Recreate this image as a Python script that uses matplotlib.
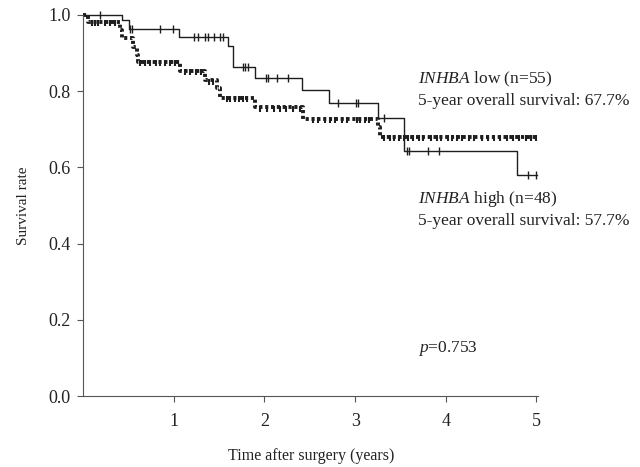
import matplotlib
matplotlib.use("Agg")
import matplotlib.pyplot as plt

plt.rcParams["font.family"] = ["Liberation Serif", "DejaVu Serif"]
plt.rcParams["mathtext.fontset"] = "custom"
plt.rcParams["mathtext.rm"] = "Liberation Serif"
plt.rcParams["mathtext.it"] = "Liberation Serif:italic"

# solid curve (step times in years, survival after each step)
solid_t = [0.0, 0.43, 0.50, 1.06, 1.60, 1.65, 1.89, 2.41, 2.71, 3.25, 3.54, 4.79, 5.01]
solid_s = [1.0, 0.987, 0.963, 0.942, 0.919, 0.863, 0.835, 0.802, 0.770, 0.730, 0.643, 0.580, 0.580]
solid_cens_t = [0.18, 0.52, 0.54, 0.85, 0.99, 1.22, 1.27, 1.34, 1.38, 1.44, 1.51, 1.54,
                1.76, 1.79, 1.82, 2.02, 2.04, 2.14, 2.26, 2.81, 3.01, 3.03, 3.32,
                3.57, 3.59, 3.80, 3.93, 4.91, 5.0]

# dotted curve
dot_t = [0.0, 0.055, 0.41, 0.43, 0.55, 0.59, 0.60, 1.07, 1.34, 1.48, 1.51, 1.90, 2.43, 3.25, 3.27, 5.0]
dot_s = [1.0, 0.982, 0.961, 0.939, 0.917, 0.896, 0.877, 0.854, 0.828, 0.809, 0.783, 0.758, 0.728, 0.705, 0.680, 0.680]
dot_cens_t = [0.10, 0.13, 0.16, 0.24, 0.30, 0.35,
              0.63, 0.68, 0.74, 0.80, 0.85, 0.90, 0.96, 1.01,
              1.12, 1.18, 1.24, 1.30, 1.39, 1.43,
              1.59, 1.62, 1.67, 1.72, 1.76, 1.81,
              1.95, 2.03, 2.10, 2.17, 2.24, 2.31, 2.39,
              2.53, 2.59, 2.67, 2.72, 2.78, 2.85, 2.91, 3.02, 3.05, 3.11, 3.15,
              3.32, 3.38, 3.43, 3.48, 3.54, 3.58, 3.64, 3.71, 3.75, 3.84, 3.90, 3.95,
              4.02, 4.07, 4.12, 4.18, 4.26, 4.31, 4.40, 4.47, 4.53, 4.60, 4.68, 4.74,
              4.81, 4.88, 4.94, 5.0]

x_ticks = [1, 2, 3, 4, 5]
y_ticks = [0.0, 0.2, 0.4, 0.6, 0.8, 1.0]


def surv_at(times, surv, t):
    val = surv[0]
    for ti, si in zip(times, surv):
        if ti <= t:
            val = si
    return val


fig = plt.figure(figsize=(6.4, 4.67), dpi=100)
ax = fig.add_axes([0.130, 0.152, 0.711, 0.816])
col = "#1e1e1e"

ax.step(solid_t, solid_s, where="post", color=col, lw=1.0, clip_on=False)
ax.plot(solid_cens_t, [surv_at(solid_t, solid_s, t) for t in solid_cens_t],
        ls="none", marker="|", ms=6, mew=1.0, color=col, clip_on=False)

ax.step(dot_t, dot_s, where="post", color=col, lw=2.8, ls=(0, (0.8, 0.7)), clip_on=False)
ax.plot(dot_cens_t, [surv_at(dot_t, dot_s, t) - 0.004 for t in dot_cens_t],
        ls="none", marker="|", ms=5, mew=1.5, color=col, clip_on=False)

ax.set_xlim(0, 5.02)
ax.set_ylim(0, 1.0)
ax.set_xticks(x_ticks)
ax.set_yticks(y_ticks)
ax.set_yticklabels([f"{v:.1f}" for v in y_ticks])
ax.spines["top"].set_visible(False)
ax.spines["right"].set_visible(False)
for s in ("left", "bottom"):
    ax.spines[s].set_color("#555555")
ax.tick_params(colors="#555555", labelcolor="#222222", labelsize=13, length=4)
ax.tick_params(axis="y", pad=5)
ax.tick_params(axis="x", pad=8)

ax.set_xlabel("Time after surgery (years)", fontsize=11.5, color="#222222", labelpad=13)
ax.set_ylabel("Survival rate", fontsize=11, color="#222222", labelpad=13)

fs = 12.5
ax.text(3.69, 0.830, r"$\it{INHBA}$ low (n=55)", fontsize=fs, va="center", color="#222222")
ax.text(3.69, 0.773, "5-year overall survival: 67.7%", fontsize=fs, va="center", color="#222222")
ax.text(3.69, 0.517, r"$\it{INHBA}$ high (n=48)", fontsize=fs, va="center", color="#222222")
ax.text(3.69, 0.460, "5-year overall survival: 57.7%", fontsize=fs, va="center", color="#222222")
ax.text(3.69, 0.125, r"$\it{p}$=0.753", fontsize=fs, va="center", color="#222222")

fig.savefig("out.png", dpi=100)
